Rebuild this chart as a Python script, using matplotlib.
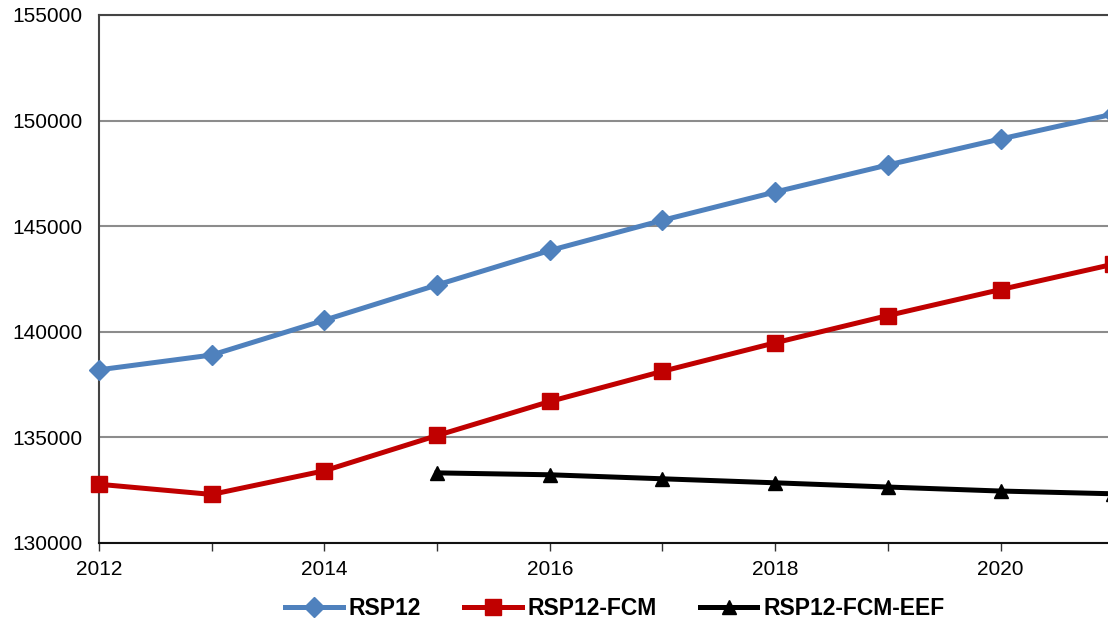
import numpy as np
import matplotlib
matplotlib.use('Agg')
from matplotlib import pyplot as plt

plt.rcParams['font.family'] = ['Liberation Sans', 'DejaVu Sans']

# data
years = [2012, 2013, 2014, 2015, 2016, 2017, 2018, 2019, 2020, 2021]
rsp12 = [138200, 138900, 140550, 142220, 143850, 145280, 146620, 147900, 149130, 150310]
rsp12_fcm = [132780, 132300, 133420, 135090, 136700, 138130, 139480, 140770, 142000, 143200]
eef_years = [2015, 2016, 2017, 2018, 2019, 2020, 2021]
rsp12_fcm_eef = [133320, 133230, 133040, 132850, 132650, 132460, 132330]

fig = plt.figure(figsize=(11.08, 6.27), dpi=100)
ax = fig.add_axes([99/1108, 1 - 543/627, 1 - 99/1108, (543 - 15)/627])

ax.plot(years, rsp12, color='#4f81bd', lw=3.6, marker='D', ms=10.5,
        label='RSP12', zorder=3, clip_on=False)
ax.plot(years, rsp12_fcm, color='#c00000', lw=3.6, marker='s', ms=11,
        label='RSP12-FCM', zorder=3, clip_on=False)
ax.plot(eef_years, rsp12_fcm_eef, color='black', lw=3.6, marker='^', ms=10.5,
        label='RSP12-FCM-EEF', zorder=3, clip_on=False)

ax.set_xlim(2012, 2012 + 1009/112.7)
ax.set_ylim(130000, 155000)
ax.set_yticks(np.arange(130000, 155001, 5000))
ax.set_xticks(np.arange(2012, 2021, 1), minor=True)
ax.set_xticks(np.arange(2012, 2021, 2))
ax.tick_params(axis='y', length=0, labelsize=15, pad=12)
ax.tick_params(axis='x', which='both', length=6, width=1, direction='out',
               labelsize=15, pad=6, color='#333333')

ax.grid(axis='y', color='#8c8c8c', lw=1.5)
ax.set_axisbelow(True)
ax.spines['right'].set_visible(False)
ax.spines['top'].set_color('#444444')
ax.spines['top'].set_linewidth(1.5)
ax.spines['left'].set_color('#444444')
ax.spines['left'].set_linewidth(1.5)
ax.spines['bottom'].set_color('#111111')
ax.spines['bottom'].set_linewidth(1.5)

leg = fig.legend(loc='center', bbox_to_anchor=(0.555, 0.03), ncol=3,
                 frameon=False, prop={'weight': 'bold', 'size': 16.5},
                 handlelength=2.5, columnspacing=1.9, handletextpad=0.25)

fig.savefig('out.png', dpi=100)
